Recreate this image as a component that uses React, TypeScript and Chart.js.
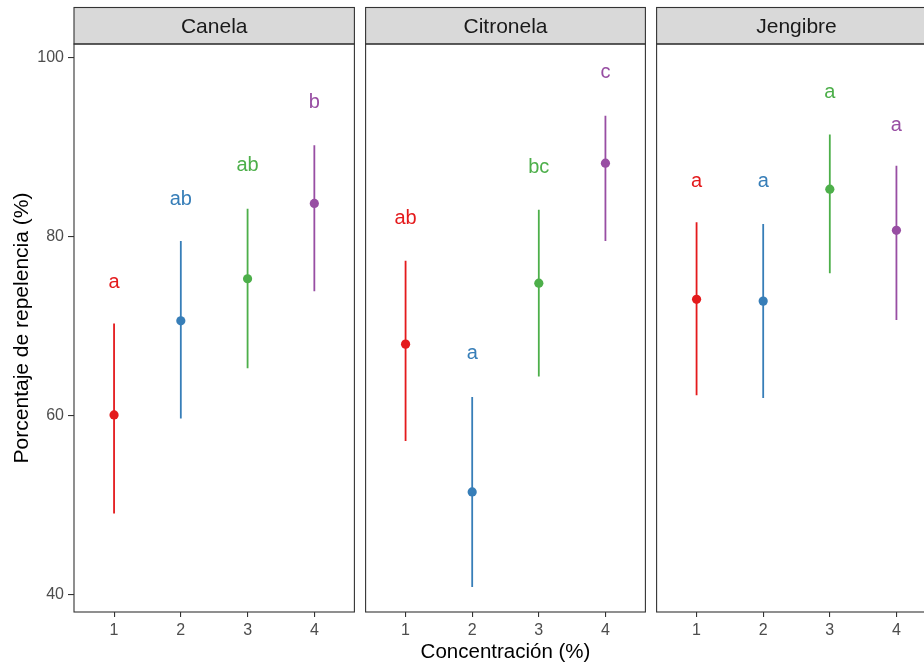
import React, { useEffect, useRef } from "react";
import { Chart, registerables } from "chart.js";

Chart.register(...registerables);

const FONT = "'Liberation Sans', Arial, Helvetica, sans-serif";

const facetNames = ["Canela", "Citronela", "Jengibre"];
const concentrations = [1, 2, 3, 4];
const seriesColors = ["#E41A1C", "#377EB8", "#4DAF4A", "#984EA3"];
const yTickValues = [40, 60, 80, 100];
const xTickValues = [1, 2, 3, 4];

const canelaMean = [60.1, 70.6, 75.3, 83.7];
const canelaLower = [49.1, 59.7, 65.3, 73.9];
const canelaUpper = [70.3, 79.5, 83.1, 90.2];
const canelaLetters = ["a", "ab", "ab", "b"];
const canelaLetterY = [74.9, 84.2, 87.9, 95.0];

const citronelaMean = [68.0, 51.5, 74.8, 88.2];
const citronelaLower = [57.2, 40.9, 64.4, 79.5];
const citronelaUpper = [77.3, 62.1, 83.0, 93.5];
const citronelaLetters = ["ab", "a", "bc", "c"];
const citronelaLetterY = [82.0, 66.9, 87.7, 98.3];

const jengibreMean = [73.0, 72.8, 85.3, 80.7];
const jengibreLower = [62.3, 62.0, 75.9, 70.7];
const jengibreUpper = [81.6, 81.4, 91.4, 87.9];
const jengibreLetters = ["a", "a", "a", "a"];
const jengibreLetterY = [86.2, 86.2, 96.1, 92.4];

const yTitle = "Porcentaje de repelencia (%)";
const xTitle = "Concentración (%)";

const Y_MIN = 38.1;
const Y_MAX = 101.5;
const X_MIN = 0.4;
const X_MAX = 4.6;

const W = 924;
const H = 665;
const PANEL_TOP = 44;
const STRIP_TOP = 7.5;
const X_AXIS_H = H - 612;

type PanelProps = {
  name: string;
  canvasLeft: number;
  canvasWidth: number;
  padLeft: number;
  padRight: number;
  showY: boolean;
  showXTitle: boolean;
  mean: number[];
  lower: number[];
  upper: number[];
  letters: string[];
  letterY: number[];
};

function Panel(p: PanelProps) {
  const ref = useRef<HTMLCanvasElement | null>(null);

  useEffect(() => {
    if (!ref.current) return;

    const decor = {
      id: "panelDecor",
      afterDatasetsDraw(chart: any) {
        const ctx = chart.ctx;
        const xs = chart.scales.x;
        const ys = chart.scales.y;
        ctx.save();
        ctx.font = `20px ${FONT}`;
        ctx.textAlign = "center";
        ctx.textBaseline = "middle";
        p.letters.forEach((t, i) => {
          ctx.fillStyle = seriesColors[i];
          ctx.fillText(t, xs.getPixelForValue(concentrations[i]), ys.getPixelForValue(p.letterY[i]));
        });
        ctx.restore();
      },
      afterDraw(chart: any) {
        const ctx = chart.ctx;
        const ca = chart.chartArea;
        ctx.save();
        ctx.fillStyle = "#D9D9D9";
        ctx.fillRect(ca.left, STRIP_TOP, ca.right - ca.left, PANEL_TOP - STRIP_TOP);
        ctx.strokeStyle = "#333333";
        ctx.lineWidth = 1.1;
        ctx.strokeRect(ca.left, STRIP_TOP, ca.right - ca.left, PANEL_TOP - STRIP_TOP);
        ctx.fillStyle = "#1A1A1A";
        ctx.font = `21px ${FONT}`;
        ctx.textAlign = "center";
        ctx.textBaseline = "middle";
        ctx.fillText(p.name, (ca.left + ca.right) / 2, (STRIP_TOP + PANEL_TOP) / 2 + 1);
        ctx.strokeRect(ca.left, ca.top, ca.right - ca.left, ca.bottom - ca.top);
        ctx.restore();
      },
    };

    const errorSets = concentrations.map((c, i) => ({
      data: [
        { x: c, y: p.lower[i] },
        { x: c, y: p.upper[i] },
      ],
      showLine: true,
      borderColor: seriesColors[i],
      borderWidth: 1.8,
      pointRadius: 0,
      pointHoverRadius: 0,
      fill: false,
    }));

    const meanSet = {
      data: concentrations.map((c, i) => ({ x: c, y: p.mean[i] })),
      showLine: false,
      backgroundColor: seriesColors,
      pointBackgroundColor: seriesColors,
      pointBorderWidth: 0,
      pointRadius: 4.6,
      pointHoverRadius: 4.6,
    };

    const yScale: any = {
      type: "linear",
      display: p.showY,
      min: Y_MIN,
      max: Y_MAX,
      afterBuildTicks: (s: any) => {
        s.ticks = yTickValues.map((v) => ({ value: v }));
      },
      ticks: {
        color: "#4D4D4D",
        font: { family: FONT, size: 16 },
        padding: 4,
        autoSkip: false,
        callback: (v: any) => String(v),
      },
      grid: {
        drawOnChartArea: false,
        drawTicks: true,
        tickLength: 6,
        color: "#333333",
        lineWidth: 1.1,
      },
      border: { display: false },
      title: {
        display: p.showY,
        text: yTitle,
        color: "#000000",
        font: { family: FONT, size: 21 },
        padding: { top: 10, bottom: 0 },
      },
    };
    if (p.showY) {
      yScale.afterFit = (s: any) => {
        s.width = 74;
      };
    }

    const chart = new Chart(ref.current, {
      type: "scatter",
      data: { datasets: [meanSet as any, ...(errorSets as any[])] },
      plugins: [decor],
      options: {
        responsive: false,
        animation: false,
        devicePixelRatio: 1,
        layout: { padding: { left: p.padLeft, right: p.padRight, top: PANEL_TOP, bottom: 0 } },
        plugins: { legend: { display: false }, tooltip: { enabled: false } },
        events: [],
        scales: {
          x: {
            type: "linear",
            min: X_MIN,
            max: X_MAX,
            afterBuildTicks: (s: any) => {
              s.ticks = xTickValues.map((v) => ({ value: v }));
            },
            afterFit: (s: any) => {
              s.height = X_AXIS_H;
            },
            ticks: {
              color: "#4D4D4D",
              font: { family: FONT, size: 16 },
              padding: 4,
              maxRotation: 0,
              autoSkip: false,
              callback: (v: any) => String(v),
            },
            grid: {
              drawOnChartArea: false,
              drawTicks: true,
              tickLength: 5,
              color: "#333333",
              lineWidth: 1.1,
            },
            border: { display: false },
            title: {
              display: p.showXTitle,
              text: xTitle,
              color: "#000000",
              font: { family: FONT, size: 20.5 },
              padding: { top: 0, bottom: 0 },
            },
          },
          y: yScale,
        },
      } as any,
    });

    return () => chart.destroy();
  }, []);

  return (
    <canvas
      ref={ref}
      width={p.canvasWidth}
      height={H}
      style={{
        position: "absolute",
        left: p.canvasLeft,
        top: 0,
        width: p.canvasWidth,
        height: H,
      }}
    />
  );
}

export default function App() {
  return (
    <div
      style={{
        position: "absolute",
        left: 0,
        top: 0,
        width: W,
        height: H,
        overflow: "hidden",
        background: "#FFFFFF",
      }}
    >
      <Panel
        name={facetNames[0]}
        canvasLeft={0}
        canvasWidth={359}
        padLeft={0}
        padRight={4}
        showY={true}
        showXTitle={false}
        mean={canelaMean}
        lower={canelaLower}
        upper={canelaUpper}
        letters={canelaLetters}
        letterY={canelaLetterY}
      />
      <Panel
        name={facetNames[1]}
        canvasLeft={361}
        canvasWidth={289}
        padLeft={4}
        padRight={4}
        showY={false}
        showXTitle={true}
        mean={citronelaMean}
        lower={citronelaLower}
        upper={citronelaUpper}
        letters={citronelaLetters}
        letterY={citronelaLetterY}
      />
      <Panel
        name={facetNames[2]}
        canvasLeft={652}
        canvasWidth={289}
        padLeft={4}
        padRight={4}
        showY={false}
        showXTitle={false}
        mean={jengibreMean}
        lower={jengibreLower}
        upper={jengibreUpper}
        letters={jengibreLetters}
        letterY={jengibreLetterY}
      />
    </div>
  );
}
